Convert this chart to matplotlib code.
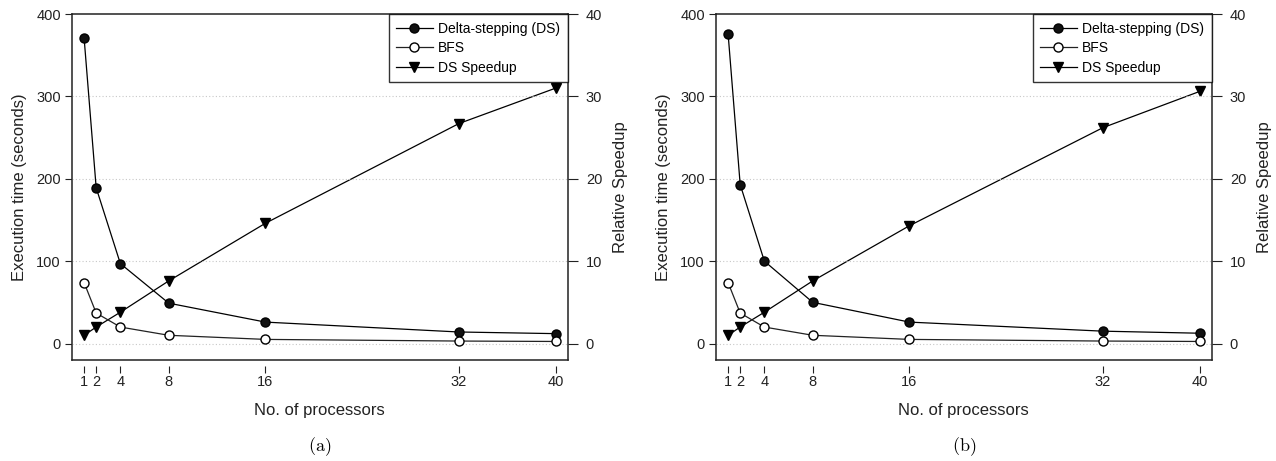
import numpy as np
import matplotlib.pyplot as plt

plt.rcParams['font.family'] = ['Liberation Sans', 'DejaVu Sans']
plt.rcParams['mathtext.fontset'] = 'cm'

procs = [1, 2, 4, 8, 16, 32, 40]

# panel (a)
ds_a = [371, 189, 97, 49, 26, 14, 12]
bfs_a = [74, 37, 20, 10, 5, 3, 2.5]
speedup_a = [1, 2, 3.8, 7.6, 14.6, 26.7, 31]

# panel (b)
ds_b = [376, 193, 100, 50, 26, 15, 12.5]
bfs_b = [74, 37, 20, 10, 5, 3, 2.5]
speedup_b = [1, 2, 3.8, 7.6, 14.3, 26.2, 30.6]

panels = [("(a)", ds_a, bfs_a, speedup_a), ("(b)", ds_b, bfs_b, speedup_b)]
lefts = [72 / 1276, 716 / 1276]

fig = plt.figure(figsize=(12.76, 4.61), dpi=100)

for left, (tag, ds, bfs, sp) in zip(lefts, panels):
    ax = fig.add_axes([left, 101 / 461, 495.7 / 1276, 346 / 461])
    ax2 = ax.twinx()
    ax.set_zorder(ax2.get_zorder() + 1)
    ax.patch.set_visible(False)

    ax.set_xlim(0, 41)
    ax.set_ylim(-20, 400)
    ax2.set_ylim(-2, 40)

    for y in [0, 100, 200, 300]:
        ax.axhline(y, color='#c8c8c8', linestyle=(0, (1, 2)), linewidth=0.8, zorder=0)

    h1, = ax.plot(procs, ds, color='black', lw=0.9, marker='o', markersize=6.5,
                  markerfacecolor='#111111', markeredgecolor='black', label='Delta-stepping (DS)')
    h2, = ax.plot(procs, bfs, color='#222222', lw=0.9, marker='o', markersize=6.5,
                  markerfacecolor='white', markeredgecolor='black', label='BFS')
    h3, = ax2.plot(procs, sp, color='black', lw=0.9, marker='v', markersize=7,
                   markerfacecolor='black', markeredgecolor='black', label='DS Speedup')

    ax.set_xticks(procs)
    ax.set_yticks([0, 100, 200, 300, 400])
    ax2.set_yticks([0, 10, 20, 30, 40])

    # x ticks drawn slightly below the frame
    ax.spines['bottom'].set_position(('outward', 4))
    ax.spines['bottom'].set_color('none')
    for s in ['top', 'left', 'right']:
        ax.spines[s].set_visible(False)
    for s in ax2.spines.values():
        s.set_linewidth(1.1)
        s.set_color('#222222')

    ax.tick_params(axis='x', direction='out', length=5, width=0.8, pad=2,
                   labelsize=10.5, colors='#222222')
    ax.tick_params(axis='y', direction='out', length=5, width=0.8, pad=3,
                   labelsize=10.5, colors='#222222')
    ax2.tick_params(axis='y', direction='out', length=7, width=0.8, pad=6,
                    labelsize=10.5, colors='#222222')

    ax.set_xlabel('No. of processors', fontsize=12, labelpad=10, color='#222222')
    ax.set_ylabel('Execution time (seconds)', fontsize=12, labelpad=7, color='#222222')
    ax2.set_ylabel('Relative Speedup', fontsize=12, labelpad=8, color='#222222')

    leg = ax.legend(handles=[h1, h2, h3], loc='upper right', fontsize=10,
                    frameon=True, fancybox=False, borderaxespad=0,
                    handlelength=2.6, handletextpad=0.4, labelspacing=0.4,
                    borderpad=0.55)
    leg.get_frame().set_edgecolor('black')
    leg.get_frame().set_linewidth(1.0)

    cx = left + 495.7 / 1276 / 2
    fig.text(cx, 1 - 447 / 461, r'$\mathrm{' + tag + '}$', ha='center', va='center',
             fontsize=13)

fig.savefig('out.png', dpi=100)
